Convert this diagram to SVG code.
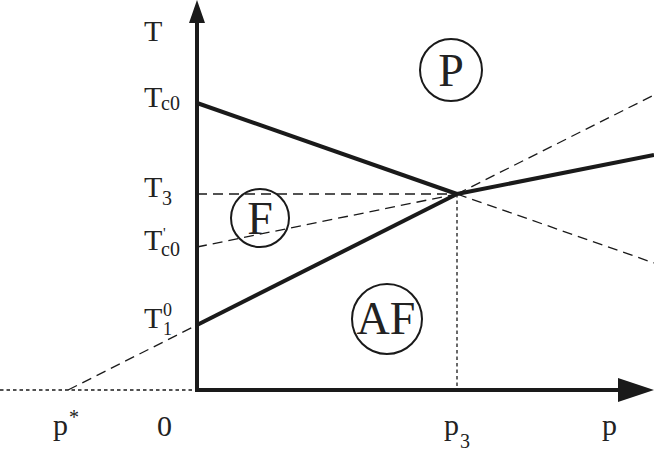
<svg xmlns="http://www.w3.org/2000/svg" width="654" height="455" viewBox="0 0 654 455">
<style>
.thick{stroke:#1a1a1a;stroke-width:4;fill:none;stroke-linecap:butt}
.dash{stroke:#1a1a1a;stroke-width:1.3;fill:none;stroke-dasharray:10 6}
.dot{stroke:#1a1a1a;stroke-width:1.3;fill:none;stroke-dasharray:3.5 3}
.lbl{font-family:"Liberation Serif","Times New Roman",serif;font-size:30px;fill:#222}
.sub{font-family:"Liberation Serif","Times New Roman",serif;font-size:20px;fill:#222}
.big{font-family:"Liberation Serif","Times New Roman",serif;font-size:46px;fill:#222;text-anchor:middle}
.ring{fill:none;stroke:#1a1a1a;stroke-width:2}
</style>
<rect width="654" height="455" fill="#fff"/>
<g id="connectors">
<line class="dot" x1="0" y1="390" x2="197" y2="390"/>
<line class="dot" x1="457" y1="194" x2="457" y2="390"/>
<line class="dash" x1="68" y1="390" x2="197" y2="325"/>
<line class="dash" x1="457" y1="194" x2="654" y2="95"/>
<line class="dash" x1="457" y1="194" x2="654" y2="263"/>
<line class="dash" x1="197" y1="194" x2="457" y2="194"/>
<line class="dash" x1="197" y1="247" x2="457" y2="194"/>
<line class="thick" x1="197" y1="103" x2="457" y2="194"/>
<line class="thick" x1="197" y1="325" x2="457" y2="194"/>
<line class="thick" x1="457" y1="194" x2="654" y2="155"/>
</g>
<g id="axes">
<polyline class="thick" points="197,20 197,390 620,390"/>
<polygon points="197,0 189,23 205,23" fill="#1a1a1a"/>
<polygon points="654,390 618,378 618,402" fill="#1a1a1a"/>
</g>
<g id="region-P">
<circle class="ring" cx="451" cy="70" r="31"/>
<text class="big" x="451" y="86">P</text>
</g>
<g id="region-F">
<circle class="ring" cx="260" cy="218" r="29"/>
<text class="big" x="260" y="234">F</text>
</g>
<g id="region-AF">
<circle class="ring" cx="387" cy="319" r="35"/>
<text class="big" x="386" y="334">AF</text>
</g>
<g id="labels">
<text class="lbl" x="144" y="41">T</text>
<text class="lbl" x="144" y="107">T</text><text class="sub" x="161" y="110">c0</text>
<text class="lbl" x="144" y="197">T</text><text class="sub" x="162" y="205">3</text>
<text class="lbl" x="144" y="250">T</text><text class="sub" x="163" y="238" style="font-size:15px">'</text><text class="sub" x="161" y="256">c0</text>
<text class="lbl" x="144" y="328">T</text><text class="sub" x="163" y="316" style="font-size:18px">0</text><text class="sub" x="163" y="335" style="font-size:18px">1</text>
<text class="lbl" x="53" y="435">p</text><text class="sub" x="69" y="424">*</text>
<text class="lbl" x="157" y="436">0</text>
<text class="lbl" x="444" y="435">p</text><text class="sub" x="460" y="448">3</text>
<text class="lbl" x="602" y="435">p</text>
</g>
</svg>
